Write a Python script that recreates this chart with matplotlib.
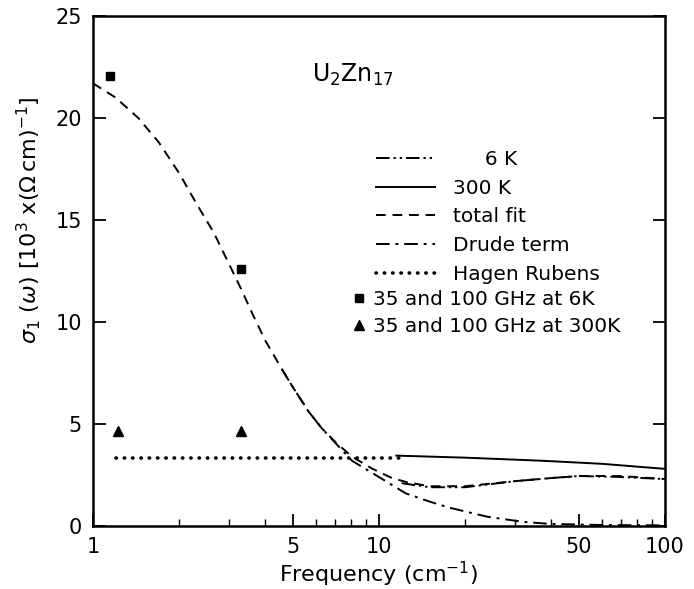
import matplotlib
matplotlib.use("Agg")
import matplotlib.pyplot as plt
from matplotlib.ticker import FixedLocator, NullFormatter, LogLocator

# values (frequency in cm^-1, sigma in 10^3 (Ohm cm)^-1)
fit_freq = [1, 1.2, 1.44, 1.7, 2.0, 2.3, 2.64, 3.0, 3.3, 3.61, 4.0, 4.57, 5.0,
            5.68, 6.3, 7.06, 8.04, 9.5, 11.1, 12.5, 15, 20, 30, 40, 50, 70, 100]
total_fit = [21.7, 21.0, 20.0, 18.8, 17.3, 15.8, 14.4, 12.8, 11.6, 10.4, 9.1, 7.7, 6.8,
             5.6, 4.8, 4.1, 3.4, 2.8, 2.35, 2.15, 1.95, 1.95, 2.2, 2.35, 2.45, 2.45, 2.3]

# Drude term coincides with the total fit below ~5 cm^-1
drude_freq = [4.57, 5.0, 5.68, 6.3, 7.06, 8.04, 10, 12.4, 15, 17.6, 24, 32, 40, 60, 100]
drude = [7.7, 6.8, 5.6, 4.8, 4.05, 3.2, 2.4, 1.6, 1.2, 0.9, 0.45, 0.2, 0.1, 0.05, 0.03]

k6_freq = [12, 15, 20, 30, 40, 50, 70, 100]
k6 = [2.1, 1.9, 1.9, 2.2, 2.35, 2.45, 2.4, 2.3]

k300_freq = [11.5, 20, 37, 60, 100]
k300 = [3.45, 3.35, 3.2, 3.05, 2.8]

hr_freq = [1.2, 12]
hr = [3.35, 3.35]

mw_freq_6k = [1.15, 3.3]
mw_6k = [22.05, 12.6]
mw_freq_300k = [1.22, 3.3]
mw_300k = [4.65, 4.65]

plt.rcParams['font.family'] = ['DejaVu Sans']
fig = plt.figure(figsize=(6.94, 5.89), dpi=100)
ax = fig.add_axes([93 / 694, 1 - 526 / 589, 572 / 694, 510 / 589])

l6, = ax.plot(k6_freq, k6, color='black', lw=1.4, linestyle=(0, (7, 2, 1.2, 2, 1.2, 2)))
l300, = ax.plot(k300_freq, k300, color='black', lw=1.4, linestyle='-')
lfit, = ax.plot(fit_freq, total_fit, color='black', lw=1.4, linestyle=(0, (5, 3.5)))
ldr, = ax.plot(drude_freq, drude, color='black', lw=1.4, linestyle=(0, (7, 3, 1.5, 3)))
lhr, = ax.plot(hr_freq, hr, color='black', lw=2.6, linestyle=(0, (0.1, 2.2)),
               dash_capstyle='round')
sq, = ax.plot(mw_freq_6k, mw_6k, 's', color='black', ms=6, linestyle='none')
tr, = ax.plot(mw_freq_300k, mw_300k, '^', color='black', ms=7, linestyle='none')

ax.set_xscale('log')
ax.set_xlim(1, 100)
ax.set_ylim(0, 25)

ax.xaxis.set_major_locator(FixedLocator([1, 5, 10, 50, 100]))
ax.set_xticklabels(['1', '5', '10', '50', '100'])
ax.xaxis.set_minor_locator(LogLocator(base=10, subs=range(2, 10)))
ax.xaxis.set_minor_formatter(NullFormatter())
ax.set_yticks([0, 5, 10, 15, 20, 25])

ax.tick_params(axis='both', which='major', direction='in', length=9, width=1.3,
               labelsize=15, pad=8)
ax.tick_params(axis='x', which='minor', direction='in', length=5, width=1.0)
ax.tick_params(axis='y', right=True, left=True)
for s in ax.spines.values():
    s.set_linewidth(1.8)

ax.set_xlabel('Frequency (cm$^{-1}$)', fontsize=16, labelpad=2)
ax.set_ylabel(r'$\sigma_1\ (\omega)\ [10^3\ \mathrm{x}(\Omega\,\mathrm{cm})^{-1}]$',
              fontsize=16)
ax.yaxis.set_label_coords(-0.087, 0.6)

ax.text(0.382, 0.885, r'U$_2$Zn$_{17}$', transform=ax.transAxes, fontsize=17,
        ha='left', va='center')

leg1 = ax.legend([l6, l300, lfit, ldr, lhr],
                 ['     6 K', '300 K', 'total fit', 'Drude term', 'Hagen Rubens'],
                 loc='upper left', bbox_to_anchor=(0.495, 0.737), frameon=False,
                 fontsize=14.5, handlelength=2.9, handletextpad=0.9,
                 labelspacing=0.48, borderpad=0, borderaxespad=0)
ax.add_artist(leg1)
ax.legend([sq, tr], ['35 and 100 GHz at 6K', '35 and 100 GHz at 300K'],
          loc='upper left', bbox_to_anchor=(0.455, 0.462), frameon=False,
          fontsize=14.5, handlelength=0.55, handletextpad=0.45,
          labelspacing=0.4, borderpad=0, borderaxespad=0)

fig.savefig('out.png', dpi=100)
